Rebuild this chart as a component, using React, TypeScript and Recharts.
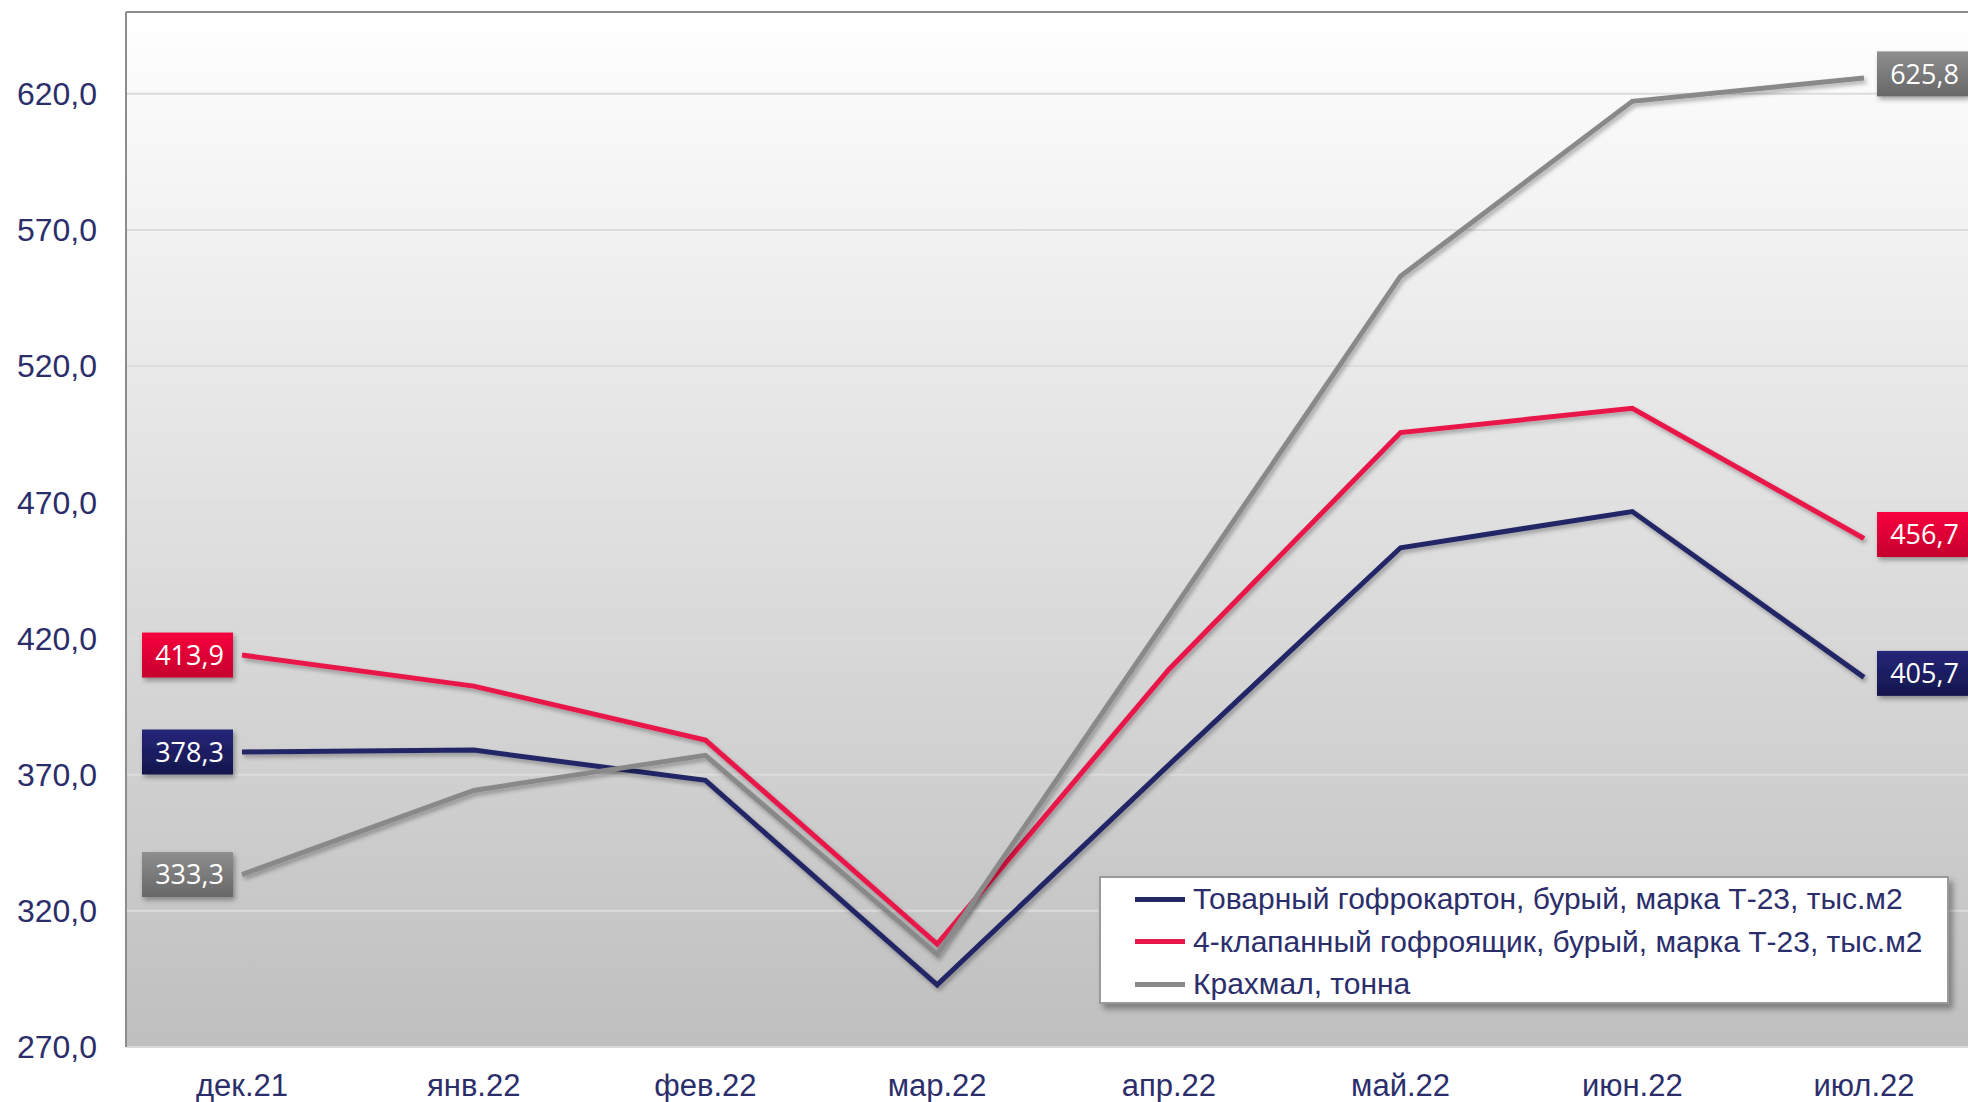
import React from 'react';
import { LineChart, Line, XAxis, YAxis, CartesianGrid, ReferenceLine, LabelList } from 'recharts';

const MONTHS = ['дек.21', 'янв.22', 'фев.22', 'мар.22', 'апр.22', 'май.22', 'июн.22', 'июл.22'];
const BOARD = [378.3, 379.0, 367.9, 292.8, 373.6, 453.3, 466.6, 405.7];
const BOX = [413.9, 402.5, 382.7, 307.8, 408.6, 495.6, 504.5, 456.7];
const STARCH = [333.3, 364.2, 377.1, 304.0, 428.3, 553.0, 617.2, 625.8];
const Y_TICKS = [270, 320, 370, 420, 470, 520, 570, 620];

const SERIES = [
  { key: 'board', name: 'Товарный гофрокартон, бурый, марка Т-23, тыс.м2', color: '#232766', grad: 'gradNavy' },
  { key: 'box', name: '4-клапанный гофроящик, бурый, марка Т-23, тыс.м2', color: '#E8174A', grad: 'gradRed' },
  { key: 'starch', name: 'Крахмал, тонна', color: '#898989', grad: 'gradGray' },
];

const data = MONTHS.map((month, i) => ({
  month,
  board: BOARD[i],
  box: BOX[i],
  starch: STARCH[i],
}));

const NAVY = '#2B2E6B';
const fmt = (v: number) => v.toFixed(1).replace('.', ',');

// boxed value labels only at the first and last month
const makeLabel = (gradId: string) => (props: any) => {
  const { x, y, value, index } = props;
  if (index !== 0 && index !== MONTHS.length - 1) return null;
  const w = 91;
  const h = 45;
  const first = index === 0;
  const left = first ? x - 9 - w : x + 13;
  const cy = first ? y : y - 4;
  return (
    <g key={`lbl-${gradId}-${index}`}>
      <rect x={left} y={cy - h / 2} width={w} height={h} fill={`url(#${gradId})`} filter="url(#boxShadow)" />
      <text
        x={left + w / 2 + 2}
        y={cy}
        dy="0.36em"
        textAnchor="middle"
        fill="#ffffff"
        fontSize={27}
        fontFamily="'Open Sans', sans-serif"
      >
        {fmt(value)}
      </text>
    </g>
  );
};

export default function App() {
  return (
    <div
      style={{
        position: 'fixed',
        left: 0,
        top: 0,
        width: 1968,
        height: 1102,
        overflow: 'hidden',
        background: '#ffffff',
        fontFamily: "'Liberation Sans', Arial, sans-serif",
      }}
    >
      <LineChart width={1990} height={1102} data={data} margin={{ top: 12, right: 10, bottom: 0, left: 0 }}>
        <defs>
          <linearGradient id="plotBg" x1="0" y1="0" x2="0" y2="1">
            <stop offset="0%" stopColor="#ffffff" />
            <stop offset="100%" stopColor="#bfbfbf" />
          </linearGradient>
          <linearGradient id="gradRed" x1="0" y1="0" x2="0" y2="1">
            <stop offset="0%" stopColor="#f7003d" />
            <stop offset="100%" stopColor="#c6002d" />
          </linearGradient>
          <linearGradient id="gradNavy" x1="0" y1="0" x2="0" y2="1">
            <stop offset="0%" stopColor="#25267a" />
            <stop offset="100%" stopColor="#15164c" />
          </linearGradient>
          <linearGradient id="gradGray" x1="0" y1="0" x2="0" y2="1">
            <stop offset="0%" stopColor="#8e8e8e" />
            <stop offset="100%" stopColor="#676767" />
          </linearGradient>
          <filter id="lineShadow" x="-5%" y="-5%" width="110%" height="110%">
            <feDropShadow dx="2" dy="3" stdDeviation="2" floodColor="#000" floodOpacity="0.3" />
          </filter>
          <filter id="boxShadow" x="-20%" y="-20%" width="150%" height="160%">
            <feDropShadow dx="2" dy="3" stdDeviation="2.5" floodColor="#000" floodOpacity="0.35" />
          </filter>
        </defs>
        <CartesianGrid vertical={false} stroke="#dcdcdc" strokeWidth={2} fill="url(#plotBg)" />
        <XAxis
          dataKey="month"
          interval={0}
          padding={{ left: 116, right: 116 }}
          height={55}
          tickLine={false}
          tickSize={0}
          tickMargin={27}
          axisLine={{ stroke: '#d9d9d9', strokeWidth: 2 }}
          tick={{ fill: NAVY, fontSize: 31, fontFamily: "'Liberation Sans', Arial, sans-serif" }}
        />
        <YAxis
          width={126}
          domain={[270, 650]}
          ticks={Y_TICKS}
          allowDataOverflow
          tickFormatter={fmt}
          tickLine={false}
          tickSize={0}
          tickMargin={29}
          axisLine={{ stroke: '#8c8c8c', strokeWidth: 2 }}
          tick={{ fill: NAVY, fontSize: 32, fontFamily: "'Liberation Sans', Arial, sans-serif" }}
        />
        <ReferenceLine y={650} stroke="#8c8c8c" strokeWidth={2} />
        {SERIES.map((s) => (
          <Line
            key={s.key}
            type="linear"
            dataKey={s.key}
            name={s.name}
            stroke={s.color}
            strokeWidth={5}
            dot={false}
            activeDot={false}
            filter="url(#lineShadow)"
            isAnimationActive={false}
          >
            <LabelList dataKey={s.key} content={makeLabel(s.grad)} />
          </Line>
        ))}
      </LineChart>
      <div
        style={{
          position: 'absolute',
          left: 1099,
          top: 876,
          width: 850,
          height: 128,
          boxSizing: 'border-box',
          background: '#ffffff',
          border: '2px solid #9a9a9a',
          boxShadow: '4px 5px 6px rgba(0,0,0,0.35)',
          paddingLeft: 34,
          paddingTop: 0,
        }}
      >
        {SERIES.map((s) => (
          <div key={s.key} style={{ display: 'flex', alignItems: 'center', height: 42.5 }}>
            <div style={{ width: 50, height: 5, background: s.color, marginRight: 8 }} />
            <span style={{ color: NAVY, fontSize: 30, whiteSpace: 'nowrap' }}>{s.name}</span>
          </div>
        ))}
      </div>
    </div>
  );
}
